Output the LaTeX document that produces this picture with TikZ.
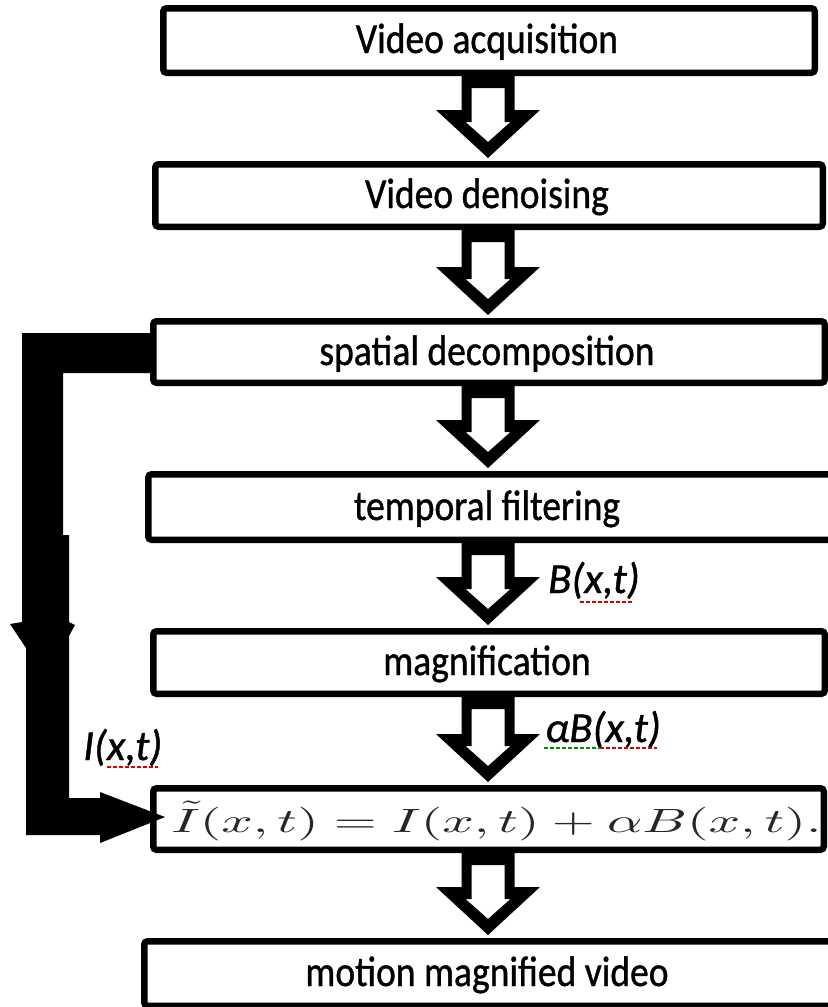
\documentclass[tikz,border=0pt]{standalone}
\usepackage{fontspec}
\setmainfont{Carlito}
\newfontfamily\heavyfont{Carlito}[FakeBold=1.0]
\usepackage{graphicx}
\usetikzlibrary{calc}
\tikzset{
  stepbox/.style={draw, line width=4.875pt, rounded corners=2.5pt, rectangle, inner sep=0pt, fill=white},
  boxtext/.style={anchor=base, inner sep=0pt, font=\heavyfont\fontsize{32}{38}\selectfont},
  varlabel/.style={anchor=base west, inner sep=0pt, font=\heavyfont\fontsize{32}{38}\selectfont\itshape},
  spellred/.style={draw=red!85!black, line width=1.6pt, dash pattern=on 3pt off 1.5pt},
  spellgreen/.style={draw=green!55!black, line width=1.6pt, dash pattern=on 3pt off 1.5pt},
}
\newcommand\sx[1]{\scalebox{0.88}[1]{#1}}
% box from outer pixel bounds
\newcommand\boxnode[5]{\node[stepbox, minimum width={(#4-#2-6.5)*0.75pt}, minimum height={(#5-#3-6.5)*0.75pt}] (#1) at ({(#2+#4)/2},{(#3+#5)/2}) {};}
% hollow block arrow from node #1 to node #2
\newcommand\hollowarrow[2]{%
  \fill[black, even odd rule] let \p1=(#1.south), \p2=(#2.north), \p3=(488,0) in
    (\x3-19.875pt,\y1) -- (\x3+19.875pt,\y1) -- (\x3+19.875pt,\y2+38.25pt) -- (\x3+39pt,\y2+38.25pt)
    -- (\x3,\y2+2.25pt) -- (\x3-39pt,\y2+38.25pt) -- (\x3-19.875pt,\y2+38.25pt) -- cycle
    (\x3-12.375pt,\y1-9pt) -- (\x3+12.375pt,\y1-9pt) -- (\x3+12.375pt,\y2+29.25pt) -- (\x3+16.875pt,\y2+29.25pt)
    -- (\x3,\y2+14.25pt) -- (\x3-16.875pt,\y2+29.25pt) -- (\x3-12.375pt,\y2+29.25pt) -- cycle;}
\begin{document}
\begin{tikzpicture}[x=0.75pt, y=-0.75pt]
\useasboundingbox (0,0) rectangle (828,1007);
\clip (0,0) rectangle (828,1007);
\fill[white] (0,0) rectangle (828,1007);

\boxnode{acq}{160}{5}{818}{76}
\boxnode{den}{152}{161}{826}{230}
\boxnode{spa}{150}{318}{828}{386}
\boxnode{tem}{145}{471}{836}{543}
\boxnode{mag}{150}{628}{828}{697}
\boxnode{eqn}{150}{785}{827}{853}
\boxnode{out}{141}{938}{836}{1009}

\node[boxtext] (tacq) at (487,53) {\sx{Video acquisition}};
\node[boxtext] (tden) at (487,208) {\sx{Video denoising}};
\node[boxtext] (tspa) at (487,365) {\sx{spatial decomposition}};
\node[boxtext] (ttem) at (487,520) {\sx{temporal filtering}};
\node[boxtext] (tmag) at (487,675) {\sx{magnification}};
\node[boxtext] (tout) at (487,986) {\sx{motion magnified video}};
\node[anchor=base west, inner sep=0pt, text=black!85] (teqn) at (171,832)
  {\resizebox{487.5pt}{23.25pt}{$\tilde{I}(x,t) = I(x,t) + \alpha B(x,t).$}};

\hollowarrow{acq}{den}
\hollowarrow{den}{spa}
\hollowarrow{spa}{tem}
\hollowarrow{tem}{mag}
\hollowarrow{mag}{eqn}
\hollowarrow{eqn}{out}

% thick side arrow I(x,t)
\fill[black] ($(spa.west)+(2,-19)$) -- (22,333) -- (22,622) -- (10,624) -- (26,648) -- (26,835)
  -- (100,835) -- (100,843) -- ($(eqn.west)+(15,-2)$) -- (100,792) -- (100,798) -- (69,798)
  -- (69,636) -- (75,625) -- (69,622) -- (69,535) -- (63,535) -- (63,373) -- ($(spa.west)+(2,21)$) -- cycle;

\node[varlabel] (lB) at (548,593) {B(x,t)};
\node[varlabel] (laB) at (545,742) {αB(x,t)};
\node[varlabel] (lI) at (83,760) {I(x,t)};
\draw[spellred] (580,602) -- (634,602);
\draw[spellgreen] (544,748) -- (600,748);
\draw[spellred] (600,748) -- (657,748);
\draw[spellred] (107,767) -- (158,767);
\end{tikzpicture}
\end{document}
